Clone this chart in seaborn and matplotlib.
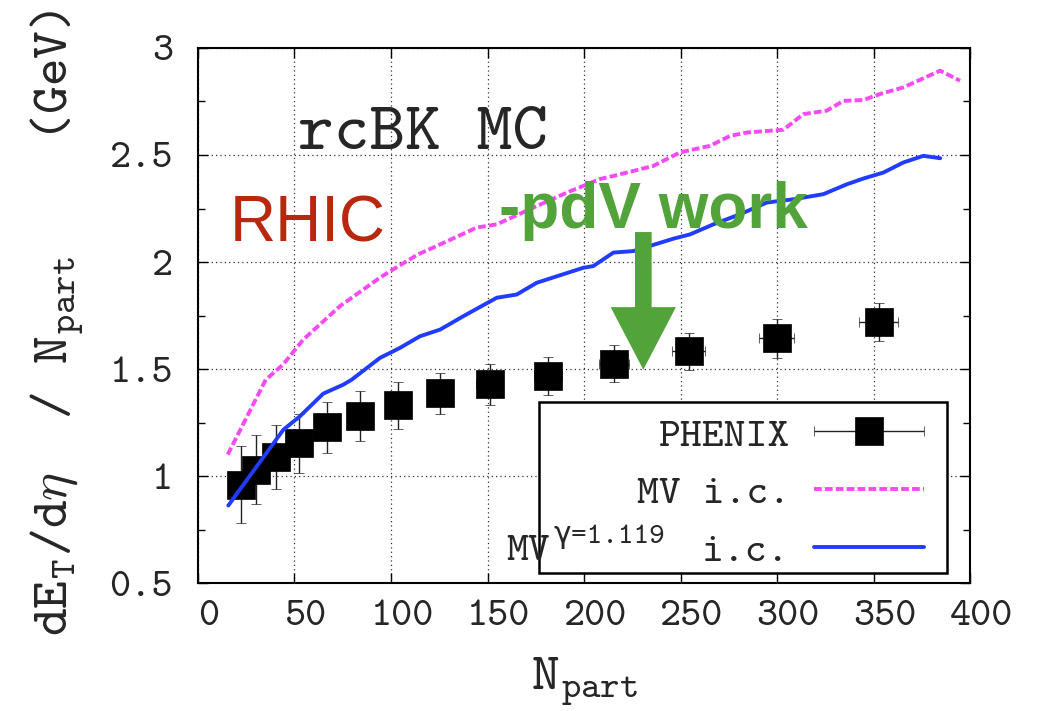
import matplotlib
matplotlib.use("Agg")
import matplotlib.pyplot as plt
import matplotlib.transforms as mtransforms
import numpy as np
import pandas as pd
import seaborn as sns
from matplotlib.container import ErrorbarContainer
from matplotlib.legend_handler import HandlerErrorbar
from matplotlib.patches import Rectangle
from matplotlib.ticker import MultipleLocator

# PHENIX Au+Au 200 GeV: dE_T/deta / N_part
npart_phenix = [22.4, 30.2, 40.6, 52.4, 67.0, 83.7, 103.4, 125.2, 151.1, 181.2, 215.4, 254.2, 299.8, 352.7]
et_phenix = [0.96, 1.03, 1.09, 1.152, 1.227, 1.281, 1.33, 1.386, 1.429, 1.469, 1.525, 1.582, 1.643, 1.718]
et_err = [0.18, 0.16, 0.15, 0.138, 0.12, 0.117, 0.108, 0.094, 0.095, 0.089, 0.088, 0.087, 0.091, 0.089]
npart_err = [3.0, 3.5, 4.0, 4.5, 5.0, 5.5, 6.0, 6.5, 7.0, 7.2, 7.8, 8.4, 9.1, 10.2]

# rcBK MC with MV initial condition
npart_mv = [15.4, 35.1, 44.0, 54.6, 73.6, 94.3, 101.0, 114.1, 125.4, 144.4, 154.8, 173.7, 191.0,
            208.3, 215.2, 235.9, 249.7, 265.3, 275.6, 284.3, 303.3, 313.6, 325.7, 334.4, 344.7,
            353.4, 365.4, 384.5, 394.8]
et_mv = [1.10, 1.45, 1.52, 1.638, 1.794, 1.927, 1.965, 2.036, 2.082, 2.161, 2.176, 2.254, 2.324,
         2.388, 2.402, 2.449, 2.512, 2.543, 2.589, 2.605, 2.618, 2.691, 2.707, 2.753, 2.757,
         2.785, 2.816, 2.894, 2.847]

# rcBK MC with MV^gamma initial condition
npart_mvg = [15.7, 44.2, 52.8, 64.9, 75.3, 79.6, 94.3, 104.7, 115.0, 125.4, 137.5, 154.8, 165.1,
             175.5, 199.6, 204.8, 215.2, 225.5, 246.3, 254.9, 267.0, 280.8, 294.7, 308.4, 324.0,
             336.1, 344.7, 355.1, 365.4, 375.8, 384.5]
et_mvg = [0.862, 1.216, 1.279, 1.385, 1.427, 1.45, 1.552, 1.599, 1.653, 1.684, 1.747, 1.833, 1.848,
          1.903, 1.973, 1.981, 2.044, 2.051, 2.109, 2.129, 2.176, 2.223, 2.278, 2.293, 2.317,
          2.363, 2.39, 2.418, 2.465, 2.496, 2.485]

xtick_vals = [0, 50, 100, 150, 200, 250, 300, 350, 400]
xtick_labels = ["0", "50", "100", "150", "200", "250", "300", "350", "400"]
ytick_vals = [0.5, 1.0, 1.5, 2.0, 2.5, 3.0]
ytick_labels = ["0.5", "1", "1.5", "2", "2.5", "3"]

MAGENTA = "#f64af6"
BLUE = "#1f3cff"
GREEN = "#52a33a"
RED = "#b8280f"
MONO = ["cmtt10", "DejaVu Sans Mono"]

sns.set_theme(style="white")
plt.rcParams.update({
    "font.family": MONO,
    "mathtext.fontset": "custom",
    "mathtext.rm": "cmtt10",
    "mathtext.it": "cmtt10",
    "mathtext.bf": "cmtt10",
    "mathtext.fallback": "cm",
    "axes.edgecolor": "black",
    "axes.linewidth": 1.5,
    "axes.unicode_minus": False,
})

fig, ax = plt.subplots(figsize=(10.42, 7.11), dpi=100)
fig.subplots_adjust(left=0.190, right=0.931, top=0.9325, bottom=0.180)

df_mv = pd.DataFrame({"npart": npart_mv, "et": et_mv})
df_mvg = pd.DataFrame({"npart": npart_mvg, "et": et_mvg})

# data points with error bars
eb = ax.errorbar(npart_phenix, et_phenix, yerr=et_err, xerr=npart_err, fmt="s",
                 color="black", ms=19.5, mew=0.5, ecolor="#222222", elinewidth=1.0,
                 capsize=3.4, capthick=1.0, zorder=2, label="PHENIX")

# model curves
sns.lineplot(data=df_mv, x="npart", y="et", ax=ax, color=MAGENTA, linewidth=2.8,
             linestyle=(0, (2.0, 0.8)), estimator=None, sort=False, zorder=3)
line_mv = ax.get_lines()[-1]
sns.lineplot(data=df_mvg, x="npart", y="et", ax=ax, color=BLUE, linewidth=2.8,
             estimator=None, sort=False, zorder=3)
line_mvg = ax.get_lines()[-1]

ax.set_xlim(0, 400)
ax.set_ylim(0.5, 3.0)
ax.set_xticks(xtick_vals, xtick_labels)
ax.set_yticks(ytick_vals, ytick_labels)
ax.yaxis.set_minor_locator(MultipleLocator(0.25))
ax.tick_params(which="both", direction="in", bottom=True, left=True, top=True, right=True,
               color="black", width=1.0)
ax.tick_params(which="major", length=7)
ax.tick_params(which="minor", length=5)
ax.tick_params(axis="x", labelsize=29, pad=12)
ax.tick_params(axis="y", labelsize=29, pad=18)
ax.grid(True, which="major", linestyle=(0, (1, 2.5)), color="#333333", linewidth=0.9)
ax.set_axisbelow(True)
for s in ax.spines.values():
    s.set_color("black")
    s.set_linewidth(1.5)

offset = mtransforms.ScaledTranslation(8 / 72, 0, fig.dpi_scale_trans)
for lbl in ax.get_xticklabels():
    lbl.set_transform(lbl.get_transform() + offset)

ax.set_xlabel("N$_\\mathrm{part}$", fontsize=38)
ax.xaxis.set_label_coords(0.5, -0.135)
ax.set_ylabel("dE$_\\mathrm{T}$/d$\\eta$  / N$_\\mathrm{part}$    (GeV)", fontsize=38)
ax.yaxis.set_label_coords(-0.145, 0.487)

# annotations
ax.text(51.8, 2.527, "rcBK MC", fontsize=49, ha="left", va="baseline", zorder=4)
ax.text(16.5, 2.098, "RHIC", fontsize=46, family="Liberation Sans", color=RED,
        ha="left", va="baseline", zorder=4)
ax.text(156.0, 2.16, "-pdV work", fontsize=46, family="Liberation Sans", weight="bold",
        color=GREEN, ha="left", va="baseline", zorder=4)
ax.annotate("", xy=(230.7, 1.497), xytext=(230.7, 2.14),
            arrowprops=dict(arrowstyle="simple,head_length=45,head_width=47,tail_width=12",
                            mutation_scale=1, color=GREEN, lw=0, shrinkA=0, shrinkB=0),
            zorder=6)

# key: white box with black border, entries right-aligned before their samples
key_box = Rectangle((0.4417, 0.0187), 0.5285, 0.3196, transform=ax.transAxes,
                    facecolor="white", edgecolor="black", linewidth=1.8, zorder=6)
ax.add_patch(key_box)
leg = ax.legend([eb, line_mv, line_mvg], ["PHENIX", "MV i.c.", "i.c."],
                loc="lower right", bbox_to_anchor=(0.9404, 0.024), borderaxespad=0,
                markerfirst=False, numpoints=1, handlelength=2.64, handletextpad=0.58,
                labelspacing=0.47, borderpad=0, fontsize=30, frameon=False,
                handler_map={ErrorbarContainer: HandlerErrorbar(xerr_size=1.32, yerr_size=0)})
leg.set_zorder(7)
ax.text(0.456, 0.043, "MV", transform=ax.transAxes, fontsize=30,
        ha="right", va="baseline", zorder=8)
ax.text(0.460, 0.0748, "γ=1.119", transform=ax.transAxes, fontsize=21.5,
        ha="left", va="baseline", zorder=8)

fig.savefig("out.png", dpi=100)
